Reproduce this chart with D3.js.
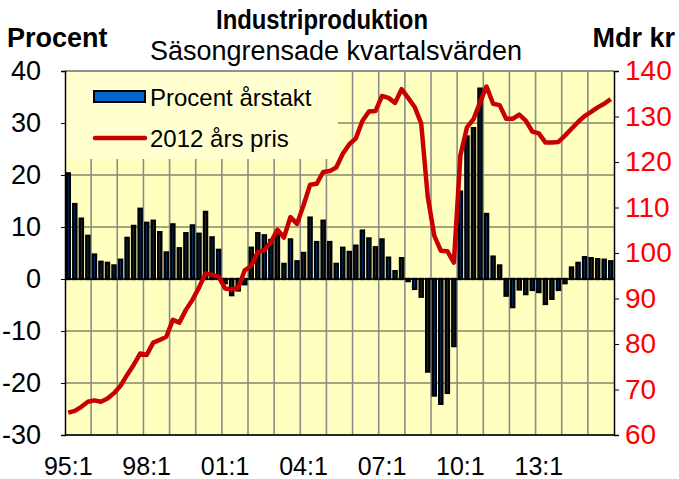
<!DOCTYPE html>
<html>
<head>
<meta charset="utf-8">
<script src="https://d3js.org/d3.v7.min.js"></script>
<style>
  body { margin: 0; background: #fff; }
  text { font-family: "Liberation Sans", Arial, sans-serif; }
</style>
</head>
<body>
<div id="chart"></div>
<script>
// Industriproduktion - säsongrensade kvartalsvärden, 95:1 - 15:4

var years = ["95","96","97","98","99","00","01","02","03","04","05","06","07","08","09","10","11","12","13","14","15"];
var quarters = years.flatMap(function(y) { return [y + ":1", y + ":2", y + ":3", y + ":4"]; });

// Procent årstakt (bars, left axis)
var arstakt = [
  20.3, 14.4, 11.6, 8.3, 4.7, 3.3, 3.1, 2.6, 3.7, 7.9, 10.2, 13.5,
  10.8, 11.2, 9.0, 5.1, 10.5, 5.9, 8.8, 10.3, 8.7, 12.9, 8.0, 5.6,
  -0.8, -3.1, -2.2, -1.0, 6.0, 8.8, 8.4, 7.5, 8.6, 2.9, 7.6, 3.4,
  5.0, 11.8, 7.1, 11.2, 7.1, 2.9, 6.0, 5.2, 6.4, 9.3, 7.8, 6.1,
  7.6, 4.1, 1.5, 4.0, -0.4, -1.9, -3.4, -17.8, -22.4, -24.0, -21.9, -12.9,
  16.8, 27.4, 29.0, 36.6, 12.5, 4.3, 2.6, -3.2, -5.4, -2.0, -2.9, -2.1,
  -2.5, -4.8, -3.8, -2.1, -0.8, 2.2, 3.1, 4.2, 4.0, 3.8, 3.7, 3.4
];

// 2012 års pris, Mdr kr (line, right axis)
var fastPris = [
  64.9, 65.3, 66.2, 67.3, 67.6, 67.3, 68.0, 69.2, 70.8, 73.2, 75.4, 77.9,
  77.6, 80.3, 80.9, 81.6, 85.3, 84.7, 87.5, 89.7, 92.4, 95.5, 95.2, 94.8,
  92.2, 92.0, 92.3, 96.2, 97.2, 100.2, 100.6, 102.4, 105.1, 103.4, 107.9, 106.4,
  110.5, 115.0, 115.2, 117.8, 118.0, 118.8, 121.8, 123.9, 125.2, 129.0, 131.1, 131.2,
  134.5, 134.1, 133.0, 136.0, 134.1, 132.1, 128.5, 112.4, 103.8, 100.5, 100.4, 97.9,
  121.5, 127.6, 129.4, 133.1, 136.6, 132.8, 132.5, 129.5, 129.5, 130.4, 129.1, 126.7,
  126.3, 124.3, 124.3, 124.4, 125.8, 127.3, 128.8, 130.1, 131.0, 132.0, 132.8, 133.8
];

var leftTicks = [40, 30, 20, 10, 0, -10, -20, -30];
var rightTicks = [140, 130, 120, 110, 100, 90, 80, 70, 60];
var xTickLabels = ["95:1", "98:1", "01:1", "04:1", "07:1", "10:1", "13:1"];

var width = 679, height = 479;
var plotLeft = 65, plotRight = 614, plotTop = 71, plotBottom = 435;

var svg = d3.select("#chart").append("svg")
  .attr("width", width)
  .attr("height", height);

var x = d3.scaleBand()
  .domain(quarters)
  .range([plotLeft, plotRight])
  .paddingInner(0.25)
  .paddingOuter(0.125);

var yLeft = d3.scaleLinear().domain([-30, 40]).range([plotBottom, plotTop]);
var yRight = d3.scaleLinear().domain([60, 140]).range([plotBottom, plotTop]);

var step = x.step();
function qStart(q) { return x(q) - step * 0.125; }

// plot background
svg.append("rect")
  .attr("x", plotLeft).attr("y", plotTop)
  .attr("width", plotRight - plotLeft).attr("height", plotBottom - plotTop)
  .attr("fill", "#ffffc0");

// horizontal gridlines
svg.append("g").selectAll("line")
  .data(leftTicks)
  .join("line")
  .attr("x1", plotLeft).attr("x2", plotRight)
  .attr("y1", function(d) { return yLeft(d); })
  .attr("y2", function(d) { return yLeft(d); })
  .attr("stroke", "#4a4a3a")
  .attr("stroke-width", 1);

// vertical gridlines at each year
svg.append("g").selectAll("line")
  .data(years.slice(1))
  .join("line")
  .attr("x1", function(d) { return qStart(d + ":1"); })
  .attr("x2", function(d) { return qStart(d + ":1"); })
  .attr("y1", plotTop).attr("y2", plotBottom)
  .attr("stroke", "#8c8c8c")
  .attr("stroke-width", 1.6);

// legend box covers the gridlines
svg.append("rect")
  .attr("x", plotLeft + 1).attr("y", plotTop + 1)
  .attr("width", 272).attr("height", 87)
  .attr("fill", "#ffffd0");

// bars (narrow, so mostly the black outline shows)
svg.append("g").selectAll("rect")
  .data(arstakt)
  .join("rect")
  .attr("x", function(d, i) { return x(quarters[i]) + 0.9; })
  .attr("width", x.bandwidth() - 1.8)
  .attr("y", function(d) { return yLeft(Math.max(0, d)); })
  .attr("height", function(d) { return Math.abs(yLeft(d) - yLeft(0)); })
  .attr("fill", "#003c80")
  .attr("stroke", "#000")
  .attr("stroke-width", 2.4);

// zero line
svg.append("line")
  .attr("x1", plotLeft).attr("x2", plotRight)
  .attr("y1", yLeft(0)).attr("y2", yLeft(0))
  .attr("stroke", "#000")
  .attr("stroke-width", 1.5);

// line
var line = d3.line()
  .x(function(d, i) { return x(quarters[i]) + x.bandwidth() / 2; })
  .y(function(d) { return yRight(d); });

svg.append("path")
  .datum(fastPris)
  .attr("d", line)
  .attr("fill", "none")
  .attr("stroke", "#c80000")
  .attr("stroke-width", 4.5)
  .attr("stroke-linejoin", "round");

// plot frame
svg.append("line")
  .attr("x1", plotLeft).attr("x2", plotRight)
  .attr("y1", plotTop).attr("y2", plotTop)
  .attr("stroke", "#8c8c8c").attr("stroke-width", 1.5);

// left axis (plain hyphen for minus, as in the original)
var leftAxis = d3.axisLeft(yLeft)
  .tickValues(leftTicks)
  .tickFormat(function(d) { return String(d); })
  .tickSize(4).tickPadding(20);
var gL = svg.append("g")
  .attr("transform", "translate(" + plotLeft + ",0)")
  .call(leftAxis);
gL.select(".domain").attr("stroke", "#000").attr("stroke-width", 1.5);
gL.selectAll(".tick line").attr("stroke", "#000");
gL.selectAll("text")
  .attr("font-size", 27)
  .attr("fill", "#000")
  .attr("font-family", "Liberation Sans, Arial, sans-serif");

// right axis
var rightAxis = d3.axisRight(yRight).tickValues(rightTicks).tickSize(5).tickPadding(6);
var gR = svg.append("g")
  .attr("transform", "translate(" + plotRight + ",0)")
  .call(rightAxis);
gR.select(".domain").attr("stroke", "#000").attr("stroke-width", 1.5);
gR.selectAll(".tick line").attr("stroke", "#000");
gR.selectAll("text")
  .attr("font-size", 28)
  .attr("fill", "#ff0000")
  .attr("font-family", "Liberation Sans, Arial, sans-serif");

// bottom axis
svg.append("line")
  .attr("x1", plotLeft).attr("x2", plotRight)
  .attr("y1", plotBottom).attr("y2", plotBottom)
  .attr("stroke", "#000").attr("stroke-width", 1.5);

svg.append("g").selectAll("text")
  .data(xTickLabels)
  .join("text")
  .attr("x", function(d) { return x(d) + x.bandwidth() / 2; })
  .attr("y", 475)
  .attr("text-anchor", "middle")
  .attr("font-size", 25)
  .text(function(d) { return d; });

// titles
svg.append("text")
  .attr("x", 322).attr("y", 29)
  .attr("text-anchor", "middle")
  .attr("font-size", 27).attr("font-weight", "bold")
  .attr("textLength", 212).attr("lengthAdjust", "spacingAndGlyphs")
  .text("Industriproduktion");

svg.append("text")
  .attr("x", 336).attr("y", 60)
  .attr("text-anchor", "middle")
  .attr("font-size", 27)
  .text("Säsongrensade kvartalsvärden");

svg.append("text")
  .attr("x", 7).attr("y", 47)
  .attr("font-size", 27).attr("font-weight", "bold")
  .text("Procent");

svg.append("text")
  .attr("x", 675).attr("y", 47)
  .attr("text-anchor", "end")
  .attr("font-size", 27).attr("font-weight", "bold")
  .text("Mdr kr");

// legend
var legend = svg.append("g");
legend.append("rect")
  .attr("x", 94).attr("y", 91)
  .attr("width", 51).attr("height", 11)
  .attr("fill", "#0066cc")
  .attr("stroke", "#000").attr("stroke-width", 2);
legend.append("text")
  .attr("x", 150).attr("y", 106)
  .attr("font-size", 24)
  .text("Procent årstakt");
legend.append("line")
  .attr("x1", 95).attr("x2", 145)
  .attr("y1", 138).attr("y2", 138)
  .attr("stroke", "#c80000").attr("stroke-width", 4.5)
  .attr("stroke-linecap", "round");
legend.append("text")
  .attr("x", 150).attr("y", 147)
  .attr("font-size", 24)
  .text("2012 års pris");
</script>
</body>
</html>
